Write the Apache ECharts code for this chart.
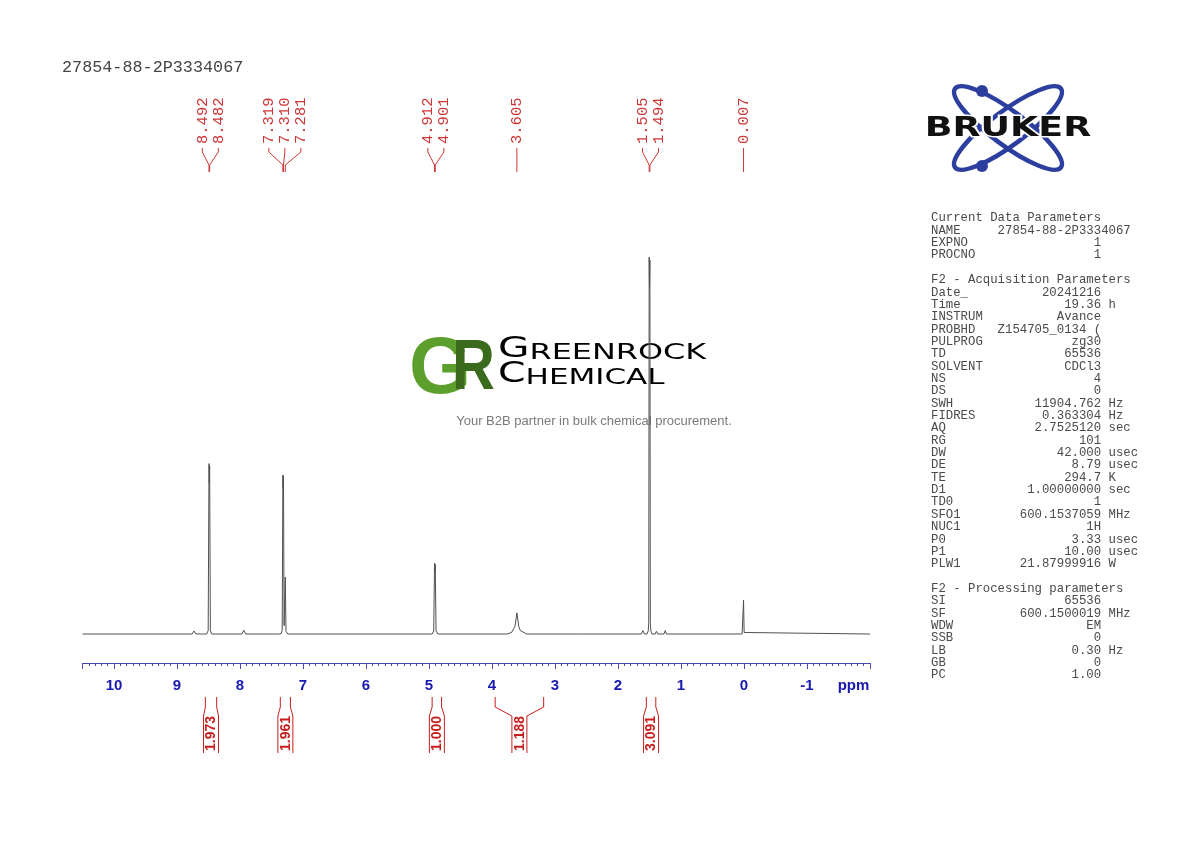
<!DOCTYPE html>
<html><head><meta charset="utf-8">
<script src="https://cdn.jsdelivr.net/npm/echarts@6/dist/echarts.min.js"></script>
<style>html,body{margin:0;padding:0;background:#fff}#c{width:1190px;height:842px}</style>
</head><body><div id="c"></div>
<script>
// ---------- data ----------
const sampleName = '27854-88-2P3334067';
const shiftPpm = [10.50, 8.76, 8.73, 8.70, 8.65, 8.63, 8.61, 8.53, 8.505, 8.492, 8.487, 8.482, 8.470, 8.45,
  7.97, 7.94, 7.91, 7.43, 7.41, 7.39, 7.35, 7.330, 7.319, 7.315, 7.310, 7.300, 7.290, 7.281, 7.270, 7.24,
  4.95, 4.925, 4.912, 4.907, 4.901, 4.888, 4.86,
  3.76, 3.69, 3.66, 3.635, 3.618, 3.605, 3.592, 3.575, 3.55, 3.52, 3.45,
  2.65, 2.63, 2.61, 1.63, 1.605, 1.58, 1.54, 1.52, 1.512, 1.505, 1.4995, 1.494, 1.487, 1.478, 1.46,
  1.41, 1.39, 1.37, 1.27, 1.25, 1.23, 0.03, 0.016, 0.007, -0.002, -0.02, -2.00];
const intensity = [0, 0, 0.8, 0, 0, 0.4, 0, 0, 0.9, 45.2, 40.0, 44.6, 0.9, 0,
  0, 1.0, 0, 0, 0.4, 0, 0, 1.0, 42.2, 38.5, 41.8, 2.2, 2.6, 15.1, 0.7, 0,
  0, 0.8, 18.8, 16.5, 18.5, 0.8, 0,
  0, 0.4, 0.9, 2.0, 4.0, 5.6, 4.0, 2.0, 0.9, 0.4, 0,
  0, 0.3, 0, 0, 0.9, 0, 0, 0.8, 3.0, 100, 92, 99.2, 3.0, 0.8, 0,
  0, 0.7, 0, 0, 0.9, 0, 0, 0.4, 9.0, 0.4, 0, 0];
const peakLabelPpm = [8.492, 8.482, 7.319, 7.310, 7.281, 4.912, 4.901, 3.605, 1.505, 1.494, 0.007];
const peakLabelGroup = [0, 0, 1, 1, 1, 2, 2, 3, 4, 4, 5];
const integralFrom = [8.55, 7.36, 4.95, 3.95, 1.55];
const integralTo = [8.37, 7.20, 4.80, 3.18, 1.40];
const integralValue = ['1.973', '1.961', '1.000', '1.188', '3.091'];
const tickValues = [10, 9, 8, 7, 6, 5, 4, 3, 2, 1, 0, -1];
const axisUnit = 'ppm';

const currentNames = ['NAME', 'EXPNO', 'PROCNO'];
const currentValues = [sampleName, '1', '1'];
const acqNames = ['Date_', 'Time', 'INSTRUM', 'PROBHD', 'PULPROG', 'TD', 'SOLVENT', 'NS', 'DS', 'SWH', 'FIDRES', 'AQ', 'RG', 'DW', 'DE', 'TE', 'D1', 'TD0', 'SFO1', 'NUC1', 'P0', 'P1', 'PLW1'];
const acqValues = ['20241216', '19.36', 'Avance', 'Z154705_0134 (', 'zg30', '65536', 'CDCl3', '4', '0', '11904.762', '0.363304', '2.7525120', '101', '42.000', '8.79', '294.7', '1.00000000', '1', '600.1537059', '1H', '3.33', '10.00', '21.87999916'];
const acqUnits = ['', 'h', '', '', '', '', '', '', '', 'Hz', 'Hz', 'sec', '', 'usec', 'usec', 'K', 'sec', '', 'MHz', '', 'usec', 'usec', 'W'];
const procNames = ['SI', 'SF', 'WDW', 'SSB', 'LB', 'GB', 'PC'];
const procValues = ['65536', '600.1500019', 'EM', '0', '0.30', '0', '1.00'];
const procUnits = ['', 'MHz', '', '', 'Hz', '', ''];

// ---------- helpers ----------
function paramLine(n, v, u) { return n.padEnd(9) + v.padStart(14) + (u ? ' ' + u : ''); }
const paramText = [
  'Current Data Parameters',
  ...currentNames.map((n, i) => paramLine(n, currentValues[i], '')),
  '',
  'F2 - Acquisition Parameters',
  ...acqNames.map((n, i) => paramLine(n, acqValues[i], acqUnits[i])),
  '',
  'F2 - Processing parameters',
  ...procNames.map((n, i) => paramLine(n, procValues[i], procUnits[i]))
].join('\n');

const RED = '#cc3535';
const IRED = '#c81e1e';
const BLUE = '#1818b0';
const AXC = '#4848b0';

function renderPeakLabel(params, api) {
  const i = api.value(1);
  const g = peakLabelGroup[i];
  const members = [];
  peakLabelGroup.forEach((v, k) => { if (v === g) members.push(k); });
  const pos = members.indexOf(i);
  const mean = members.reduce((s, k) => s + peakLabelPpm[k], 0) / members.length;
  const cx = api.coord([mean, 0])[0];
  const lx = cx + (pos - (members.length - 1) / 2) * 16 + (members.length > 1 ? 1 : 0);
  const px = api.coord([peakLabelPpm[i], 0])[0];
  return {
    type: 'group', children: [
      { type: 'text', x: lx + 0.5, y: 144, rotation: Math.PI / 2,
        style: { text: peakLabelPpm[i].toFixed(3), fill: RED, font: '15.5px "Liberation Mono", monospace', align: 'left', verticalAlign: 'middle' } },
      { type: 'polyline', shape: { points: [[lx, 148], [lx, 152], [px, 165], [px, 172]] },
        style: { stroke: RED, lineWidth: 1, fill: null } }
    ]
  };
}

function renderIntegral(params, api) {
  const i = api.value(1);
  const x1 = api.coord([integralFrom[i], 0])[0];
  const x2 = api.coord([integralTo[i], 0])[0];
  const cx = (x1 + x2) / 2, hw = 7.5;
  return {
    type: 'group', children: [
      { type: 'polyline', shape: { points: [[x1, 697], [x1, 707], [cx - hw, 716], [cx - hw, 753]] }, style: { stroke: IRED, lineWidth: 1, fill: null } },
      { type: 'polyline', shape: { points: [[x2, 697], [x2, 707], [cx + hw, 716], [cx + hw, 753]] }, style: { stroke: IRED, lineWidth: 1, fill: null } },
      { type: 'text', x: cx + 0.5, y: 751, rotation: Math.PI / 2,
        style: { text: integralValue[i], fill: IRED, font: 'bold 14px "Liberation Sans", Arial, sans-serif', align: 'left', verticalAlign: 'middle' } }
    ]
  };
}

const chart = echarts.init(document.getElementById('c'), null, { renderer: 'canvas' });
const PXPU = 3.77;
const yMin = -29 / PXPU, yMax = 101;
const GREEN = '#5c9f2c';
chart.setOption({
  animation: false,
  backgroundColor: '#fff',
  grid: { left: 82.5, right: 320, bottom: 179, top: 663 - (yMax - yMin) * PXPU },
  xAxis: {
    type: 'value', inverse: true, min: -2, max: 10.5, interval: 1,
    axisLine: { onZero: false, lineStyle: { color: AXC, width: 1 } },
    axisTick: { length: 6, lineStyle: { color: AXC } },
    minorTick: { show: true, splitNumber: 10, length: 3, lineStyle: { color: AXC } },
    splitLine: { show: false }, minorSplitLine: { show: false },
    axisLabel: {
      interval: 0, showMinLabel: true, showMaxLabel: false, margin: 15,
      color: BLUE, fontFamily: '"Liberation Sans", Arial, sans-serif', fontWeight: 'bold', fontSize: 15,
      formatter: v => v === -2 ? '{u|' + axisUnit + '}' : (tickValues.indexOf(v) >= 0 ? String(v) : ''),
      rich: { u: { color: BLUE, fontFamily: '"Liberation Sans", Arial, sans-serif', fontWeight: 'bold', fontSize: 15, padding: [0, 33, 0, 0] } }
    }
  },
  yAxis: { type: 'value', min: yMin, max: yMax, show: false },
  series: [
    { type: 'line', data: shiftPpm.map((p, i) => [p, intensity[i]]), showSymbol: false, symbol: 'none',
      lineStyle: { color: '#505050', width: 1 }, z: 5, clip: false },
    { type: 'custom', data: peakLabelPpm.map((p, i) => [p, i]), renderItem: renderPeakLabel, clip: false, silent: true, z: 6 },
    { type: 'custom', data: integralFrom.map((p, i) => [p, i]), renderItem: renderIntegral, clip: false, silent: true, z: 6 }
  ],
  graphic: [
    { type: 'text', x: 62, y: 68, style: { text: sampleName, fill: '#444', font: '16.8px "Liberation Mono", monospace', align: 'left', verticalAlign: 'middle' } },
    { type: 'text', x: 931, y: 212, style: { text: paramText, fill: '#4a4a4a', font: '12.33px "Liberation Mono", monospace', lineHeight: 12.35, align: 'left', verticalAlign: 'top' } },
    // Bruker logo
    { type: 'group', x: 1008, y: 128, children: [
      { type: 'ellipse', rotation: -0.64, shape: { cx: 0, cy: 0, rx: 66, ry: 17 }, style: { stroke: '#2c3f9e', lineWidth: 4.5, fill: null } },
      { type: 'ellipse', rotation: 0.64, shape: { cx: 0, cy: 0, rx: 66, ry: 17 }, style: { stroke: '#2c3f9e', lineWidth: 4.5, fill: null } },
      { type: 'circle', shape: { cx: -26, cy: -37, r: 6 }, style: { fill: '#2c3f9e' } },
      { type: 'circle', shape: { cx: -26, cy: 38, r: 6 }, style: { fill: '#2c3f9e' } },
      { type: 'text', x: 0, y: 1, scaleX: 1.4, style: { text: 'BRUKER', fill: '#111', stroke: '#fff', lineWidth: 3, font: 'bold 26px "DejaVu Sans", sans-serif', align: 'center', verticalAlign: 'middle' } }
    ] },
    // Greenrock watermark
    { type: 'text', x: 409, y: 371, style: { text: 'G', fill: GREEN, font: 'bold 80px "Liberation Sans", Arial, sans-serif', align: 'left', verticalAlign: 'middle' } },
    { type: 'text', x: 452, y: 370, scaleX: 0.85, style: { text: 'R', fill: '#3a6b1c', font: 'bold 70px "Liberation Sans", Arial, sans-serif', align: 'left', verticalAlign: 'middle' } },
    { type: 'text', x: 498, y: 364, scaleX: 1.45, style: { text: '{a|G}{b|REENROCK}', align: 'left', verticalAlign: 'bottom',
      rich: { a: { fontFamily: 'DejaVu Sans', fontSize: 28, color: GREEN, verticalAlign: 'bottom' }, b: { fontFamily: 'DejaVu Sans', fontSize: 22, color: GREEN, verticalAlign: 'bottom' } } } },
    { type: 'text', x: 498, y: 389, scaleX: 1.41, style: { text: '{a|C}{b|HEMICAL}', align: 'left', verticalAlign: 'bottom',
      rich: { a: { fontFamily: 'DejaVu Sans', fontSize: 28, color: GREEN, verticalAlign: 'bottom' }, b: { fontFamily: 'DejaVu Sans', fontSize: 22, color: GREEN, verticalAlign: 'bottom' } } } },
    { type: 'text', x: 594, y: 421, style: { text: 'Your B2B partner in bulk chemical procurement.', fill: '#7a7a7a', font: '13px "Liberation Sans", Arial, sans-serif', align: 'center', verticalAlign: 'middle' } }
  ]
});
</script></body></html>
